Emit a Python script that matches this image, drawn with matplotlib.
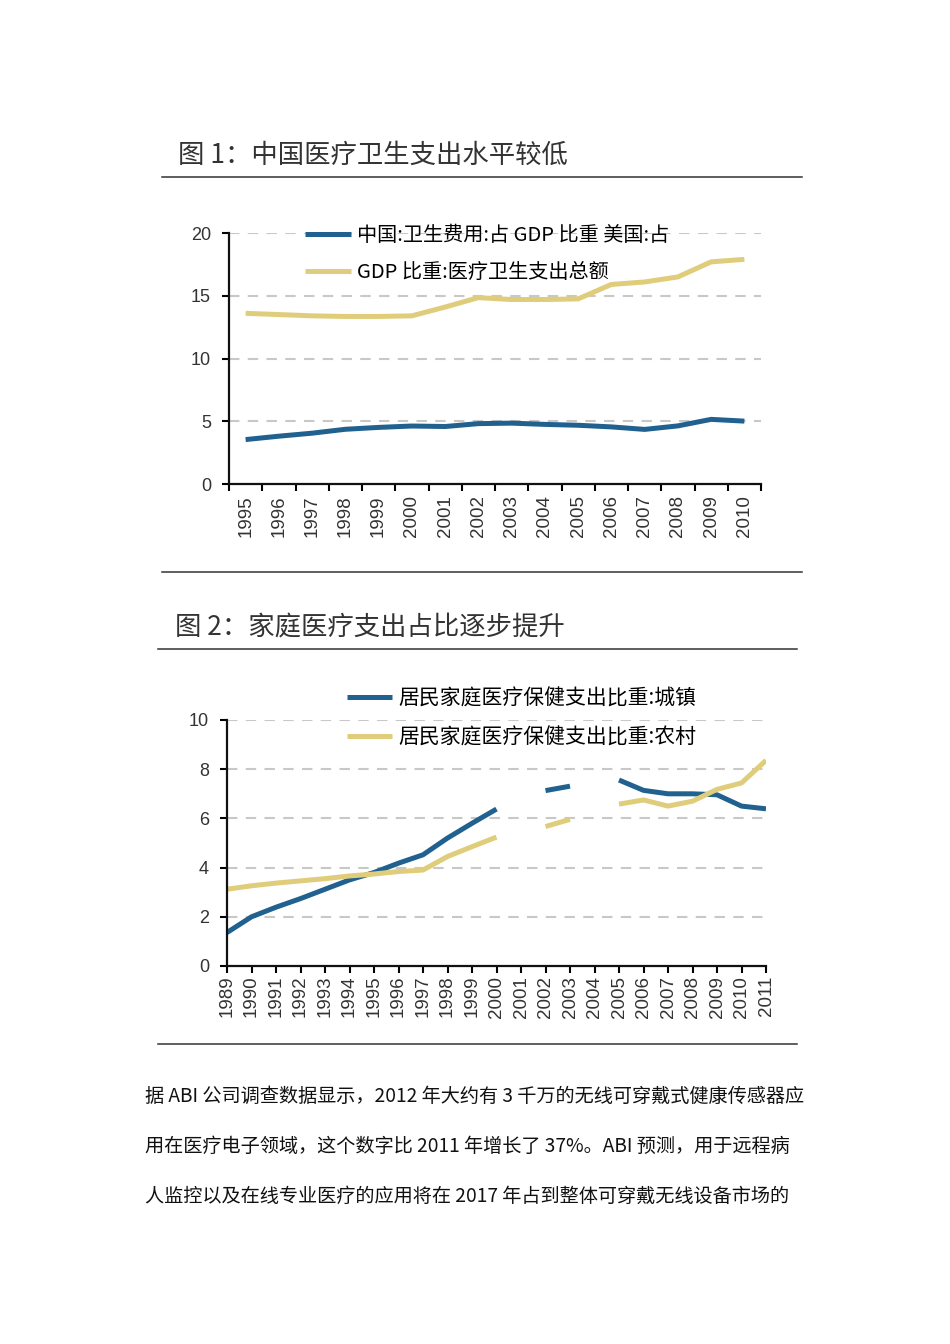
import numpy as np
import matplotlib
matplotlib.use("Agg")
import matplotlib.pyplot as plt
from matplotlib.lines import Line2D

plt.rcParams['font.family'] = ['Noto Sans CJK SC', 'DejaVu Sans']

# figure 1: health spending as share of GDP
years1 = list(range(1995, 2011))
china = [3.54, 3.81, 4.05, 4.36, 4.51, 4.62, 4.58, 4.81, 4.85, 4.75, 4.68, 4.55, 4.35, 4.63, 5.15, 5.01]
usa = [13.6, 13.5, 13.4, 13.35, 13.35, 13.4, 14.1, 14.85, 14.7, 14.7, 14.75, 15.9, 16.1, 16.5, 17.7, 17.9]
labels1 = ['中国:卫生费用:占 GDP 比重 美国:占', 'GDP 比重:医疗卫生支出总额']
yticks1 = [0, 5, 10, 15, 20]

# figure 2: household medical spending share
years2 = list(range(1989, 2012))
urban = [1.36, 2.0, 2.39, 2.74, 3.12, 3.5, 3.8, 4.18, 4.52, 5.2, 5.8, 6.38, np.nan, 7.13, 7.31, np.nan,
         7.56, 7.14, 7.0, 7.0, 6.96, 6.5, 6.39]
rural = [3.12, 3.26, 3.37, 3.46, 3.55, 3.66, 3.74, 3.84, 3.9, 4.45, 4.85, 5.24, np.nan, 5.67, 5.96, np.nan,
         6.58, 6.75, 6.5, 6.7, 7.18, 7.44, 8.36]
labels2 = ['居民家庭医疗保健支出比重:城镇', '居民家庭医疗保健支出比重:农村']
yticks2 = [0, 2, 4, 6, 8, 10]

title1 = '图 1：中国医疗卫生支出水平较低'
title2 = '图 2：家庭医疗支出占比逐步提升'
paragraph = ['据 ABI 公司调查数据显示，2012 年大约有 3 千万的无线可穿戴式健康传感器应',
             '用在医疗电子领域，这个数字比 2011 年增长了 37%。ABI 预测，用于远程病',
             '人监控以及在线专业医疗的应用将在 2017 年占到整体可穿戴无线设备市场的']

BLUE = '#21618f'
GOLD = '#dfcd7b'
GRID = '#c8c8c8'
TXT = '#333333'
NUM_FONT = 'Liberation Sans'
W, H = 950, 1344

fig = plt.figure(figsize=(W / 100, H / 100), dpi=100)


def fx(px):
    return px / W


def fy(py):
    return 1 - py / H


def style_axis(ax, yticks):
    for s in ['top', 'right']:
        ax.spines[s].set_visible(False)
    for s in ['left', 'bottom']:
        ax.spines[s].set_linewidth(1.6)
        ax.spines[s].set_color('#111111')
    ax.set_yticks(yticks)
    ax.set_ylim(yticks[0], yticks[-1])
    ax.tick_params(axis='y', direction='out', length=5, width=1.5, pad=8,
                   labelsize=13, labelcolor=TXT, labelfontfamily=NUM_FONT)
    for v in yticks[1:]:
        ax.axhline(v, color=GRID, lw=1.5, ls=(0, (5, 4)), zorder=0)


def hline(x0, x1, y):
    fig.add_artist(Line2D([fx(x0), fx(x1)], [fy(y), fy(y)], color=TXT, lw=1.1))


# ---- chart 1
ax1 = fig.add_axes([fx(229), fy(484), fx(761) - fx(229), fy(233) - fy(484)])
ax1.plot(years1, china, color=BLUE, lw=3.6, solid_capstyle='butt', label=labels1[0])
ax1.plot(years1, usa, color=GOLD, lw=3.6, solid_capstyle='butt', label=labels1[1])
style_axis(ax1, yticks1)
ax1.set_xlim(years1[0] - 0.5, years1[-1] + 0.5)
ax1.set_xticks(np.arange(years1[0] - 0.5, years1[-1] + 1, 1))
ax1.set_xticklabels([])
ax1.set_xticks(years1, minor=True)
ax1.set_xticklabels([str(y) for y in years1], minor=True, rotation=90)
ax1.tick_params(axis='x', which='major', direction='out', length=5, width=1.5)
ax1.tick_params(axis='x', which='minor', length=0, pad=8, labelsize=13.5,
                labelcolor=TXT, labelfontfamily=NUM_FONT)
ax1.legend(loc='upper left', bbox_to_anchor=(0.143, 1.033), frameon=False,
           fontsize=14.5, handlelength=2.3, handletextpad=0.3, labelspacing=0.8,
           borderpad=0, borderaxespad=0)

# ---- chart 2
ax2 = fig.add_axes([fx(227), fy(966), fx(766) - fx(227), fy(720) - fy(966)])
ax2.plot(years2, urban, color=BLUE, lw=3.6, solid_capstyle='butt', label=labels2[0])
ax2.plot(years2, rural, color=GOLD, lw=3.6, solid_capstyle='butt', label=labels2[1])
style_axis(ax2, yticks2)
ax2.set_xlim(years2[0], years2[-1])
ax2.set_xticks(years2)
ax2.set_xticklabels([str(y) for y in years2], rotation=90)
ax2.tick_params(axis='x', direction='out', length=5, width=1.5, pad=2, labelsize=13.5,
                labelcolor=TXT, labelfontfamily=NUM_FONT)
ax2.legend(loc='upper left', bbox_to_anchor=(0.222, 1.132), frameon=False,
           fontsize=15, handlelength=2.2, handletextpad=0.3, labelspacing=0.8,
           borderpad=0, borderaxespad=0)

# ---- titles, rules and text
fig.text(fx(178), fy(155), title1, fontsize=19, color=TXT, va='center')
hline(162, 802, 177)
hline(162, 802, 572)
fig.text(fx(175), fy(628), title2, fontsize=19, color=TXT, va='center')
hline(158, 797, 649)
hline(158, 797, 1044)
for i, line in enumerate(paragraph):
    fig.text(fx(145), fy(1096 + 50 * i), line, fontsize=13.8, color='#111111', va='center')

fig.savefig('out.png', dpi=100)
